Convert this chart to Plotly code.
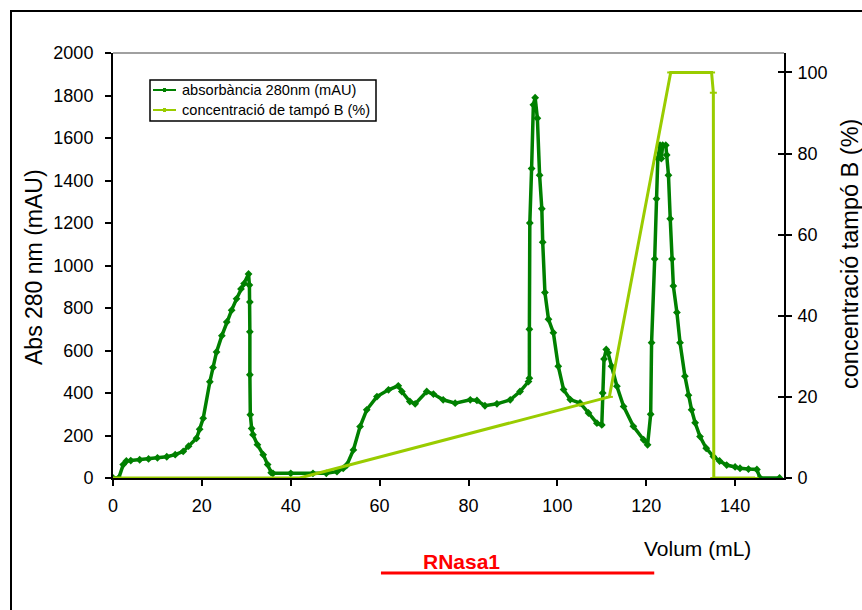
import plotly.graph_objects as go

# ---- data ----
vol_abs = [0, 1.3, 2.3, 3.0, 4, 6, 8, 10, 12.1, 14, 15.8, 17, 18.8, 19.5, 20.3, 21.8, 22.5,
           23.3, 24.5, 25.6, 26.7, 27.8, 28.8, 29.5, 30.5,
           30.7, 30.8, 30.8, 30.8, 30.9, 31.2, 31.5, 32.5, 33.8, 34.8, 35.6, 36, 40, 45, 48,
           50.4, 51.8, 52.6, 54.1, 55.6, 57.1, 59.4, 62, 64.2, 65, 66.8, 68, 70.6, 72.1, 74.3,
           77, 80.4, 81.9, 83.7, 86.4, 89.4, 91.6, 93.5,
           93.7, 93.7, 93.8, 94.2, 94.6, 95.0, 95.5, 96.0, 96.5, 96.7, 97.2, 98.0, 99.1, 100.2,
           101.4, 102.9, 105.1, 107, 108.9, 110, 110.2, 110.5, 111, 111.4, 112.2, 113.4, 114.9,
           117.1, 119.4, 120.3, 121, 121.2, 121.9, 122.3, 122.6, 123.1, 123.4, 123.7, 124.4,
           124.6, 125, 125.4, 125.8, 126.1, 126.9, 127.6, 128.7, 129.5, 130.2, 131, 132.1,
           133.5, 135.1, 136.5, 138.1, 140, 141.1, 143, 144.9, 145.6, 150]
abs280 = [0, 0, 63, 80, 82, 86, 90, 95, 100, 110, 125, 150, 187, 230, 281, 453, 520,
          593, 670, 734, 790, 843, 890, 915, 960,
          908, 828, 688, 486, 298, 233, 204, 157, 110, 63, 25, 22, 22, 22, 22,
          30, 45, 60, 132, 242, 321, 383, 415, 434, 407, 360, 349, 407, 395, 368,
          352, 368, 365, 340, 349, 368, 407, 454,
          470, 700, 1200, 1456, 1756, 1790, 1693, 1425, 1267, 1110, 873, 747, 684, 526,
          416, 369, 353, 306, 258, 250, 400, 560, 605, 590, 526, 432, 337,
          243, 180, 156, 300, 637, 1031, 1314, 1503, 1566, 1503, 1566, 1566,
          1520, 1425, 1220, 1031, 904, 779, 637, 479, 390, 321, 260, 195,
          140, 101, 80, 61, 52, 46, 42, 40, 0, 0]

vol_grad = [0, 42, 111.7, 125.5, 134.7, 135.1, 135.2, 144.5]
buffer_b = [0, 0, 20, 100, 100, 95, 0, 0]

x_ticks = [0, 20, 40, 60, 80, 100, 120, 140]
y_ticks = [0, 200, 400, 600, 800, 1000, 1200, 1400, 1600, 1800, 2000]
y2_ticks = [0, 20, 40, 60, 80, 100]

series_names = ["absorbància 280nm (mAU)", "concentració de tampó B (%)"]
band_start, band_end = 60.3, 121.8

FONT = "Liberation Sans, Arial, sans-serif"
DARK = "#008000"
LIME = "#99CC00"

# plot area in window pixels: left 113, right 784, top 53, bottom 478
W, H = 862, 610
L, R, T, B = 113, 78, 53, 132
PW, PH = W - L - R, H - T - B


def px(xw):
    return (xw - L) / PW


def py(yw):
    return (H - B - yw) / PH


fig = go.Figure()
fig.add_trace(go.Scatter(
    x=vol_abs, y=abs280, name=series_names[0], mode="lines+markers",
    line=dict(color=DARK, width=3.5), marker=dict(symbol="diamond", size=6, color=DARK),
    yaxis="y", showlegend=False))
fig.add_trace(go.Scatter(
    x=vol_grad, y=buffer_b, name=series_names[1], mode="lines+markers",
    line=dict(color=LIME, width=3), marker=dict(symbol="line-ew-open", size=5,
                                                 line=dict(color=LIME, width=2)),
    yaxis="y2", showlegend=False))
fig.add_trace(go.Scatter(x=[None], y=[None], yaxis="y3", showlegend=False, hoverinfo="skip"))

axis_common = dict(showgrid=False, zeroline=False, showline=True, linecolor="black",
                   linewidth=2, ticks="outside", ticklen=6, tickwidth=2, tickcolor="black",
                   tickfont=dict(family=FONT, size=18, color="black"))

fig.update_layout(
    width=W, height=H,
    margin=dict(l=L, r=R, t=T, b=B, pad=0),
    paper_bgcolor="white", plot_bgcolor="white",
    font=dict(family=FONT, color="black"),
    xaxis=dict(range=[0, 151], tickvals=x_ticks, ticklabelstandoff=4, **axis_common),
    yaxis=dict(range=[0, 2000], tickvals=y_ticks, ticklabelstandoff=8, **axis_common),
    yaxis2=dict(range=[0, 104.8], tickvals=y2_ticks, overlaying="y", side="right",
                ticklabelstandoff=2, **axis_common),
    yaxis3=dict(range=[0, 104.8], tickvals=y2_ticks, overlaying="y", side="right",
                showgrid=False, zeroline=False, showline=False, ticks="inside",
                ticklen=6, tickwidth=2, tickcolor="black", showticklabels=False),
    showlegend=False,
)

# top plot-area border (gray) and outer frame
fig.add_shape(type="line", xref="paper", yref="paper", x0=0, x1=1, y0=1, y1=1,
              line=dict(color="#808080", width=1.5))
fig.add_shape(type="rect", xref="paper", yref="paper",
              x0=px(11), x1=3, y0=-3, y1=py(11),
              line=dict(color="black", width=2))

# legend box (drawn by hand to match the original's compact layout)
fig.add_shape(type="rect", xref="paper", yref="paper",
              x0=px(150), x1=px(376), y0=py(121), y1=py(80),
              line=dict(color="black", width=1.5), fillcolor="white", layer="above")
legend_rows = [(90, DARK), (110, LIME)]
for (yw, col), name in zip(legend_rows, series_names):
    fig.add_shape(type="line", xref="paper", yref="paper",
                  x0=px(153), x1=px(176), y0=py(yw), y1=py(yw),
                  line=dict(color=col, width=2), layer="above")
    fig.add_shape(type="line", xref="paper", yref="paper",
                  x0=px(164.5), x1=px(164.5), y0=py(yw - 2), y1=py(yw + 2),
                  line=dict(color=col, width=3), layer="above")
    fig.add_annotation(text=name, xref="paper", yref="paper",
                       x=px(180), y=py(yw), xanchor="left", yanchor="middle",
                       showarrow=False, font=dict(family=FONT, size=14.6, color="black"))

# axis titles
fig.add_annotation(text="Abs 280 nm (mAU)", xref="paper", yref="paper",
                   x=px(34), y=py(267), textangle=-90, xanchor="center", yanchor="middle",
                   showarrow=False, font=dict(family=FONT, size=23, color="black"))
fig.add_annotation(text="concentració tampó B (%)", xref="paper", yref="paper",
                   x=px(850), y=py(254), textangle=-90, xanchor="center", yanchor="middle",
                   showarrow=False, font=dict(family=FONT, size=23.5, color="black"))
fig.add_annotation(text="Volum (mL)", xref="paper", yref="paper",
                   x=px(697), y=py(548), xanchor="center", yanchor="middle",
                   showarrow=False, font=dict(family=FONT, size=21, color="black"))

# RNasa1 band
fig.add_shape(type="line", xref="x", yref="paper", x0=band_start, x1=band_end,
              y0=py(573), y1=py(573), line=dict(color="red", width=3))
fig.add_annotation(text="<b>RNasa1</b>", xref="paper", yref="paper",
                   x=px(461), y=py(561), xanchor="center", yanchor="middle",
                   showarrow=False, font=dict(family=FONT, size=21, color="red"))

fig.write_html(
    "out.html",
    config={"displayModeBar": False},
    post_script=("document.body.style.margin='0';"
                 "document.body.style.overflow='hidden';"
                 "document.documentElement.style.overflow='hidden';"),
)
